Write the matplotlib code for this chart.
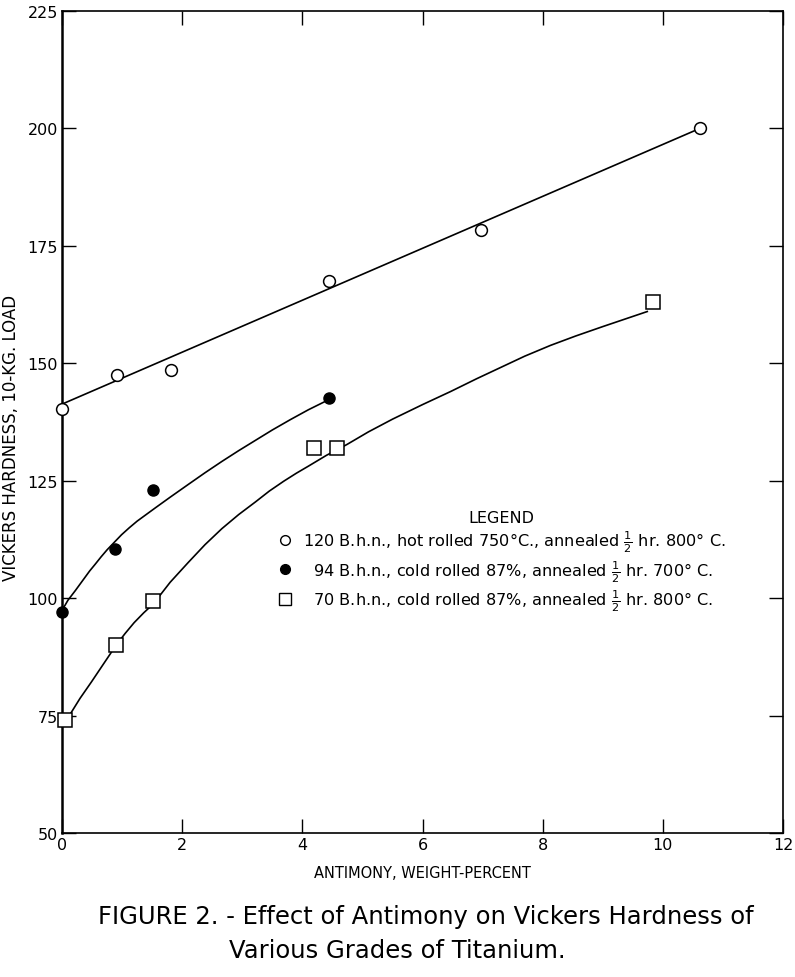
#!/usr/bin/env python3

import matplotlib
matplotlib.use('Agg')
import matplotlib.pyplot as plt
from matplotlib.lines import Line2D

# measured points
hot_x = [0.0, 0.91, 1.82, 4.45, 6.98, 10.62]
hot_y = [140.3, 147.5, 148.5, 167.5, 178.3, 200.0]

cold700_x = [0.0, 0.88, 1.52, 4.45]
cold700_y = [97.0, 110.5, 123.0, 142.5]

cold800_x = [0.05, 0.9, 1.52, 4.2, 4.57, 9.83]
cold800_y = [74.0, 90.0, 99.5, 132.0, 132.0, 163.0]

# curves drawn through the data
fit_hot_x = [0.0, 10.55]
fit_hot_y = [141.3, 199.6]

fit_700_x = [0.0, 0.05, 0.1, 0.16, 0.22, 0.3, 0.38, 0.46, 0.55, 0.65, 0.75, 0.87, 0.99, 1.12,
             1.25, 1.4, 1.55, 1.8, 2.1, 2.38, 2.66, 2.94, 3.22, 3.5, 3.8, 4.1, 4.4]
fit_700_y = [97.5, 98.5, 99.6, 100.6, 101.6, 103.0, 104.4, 105.8, 107.2, 108.8, 110.3, 111.9,
             113.5, 115.0, 116.4, 117.8, 119.2, 121.5, 124.2, 126.7, 129.1, 131.4, 133.6,
             135.8, 138.0, 140.1, 142.0]

fit_800_x = [0.12, 0.3, 0.49, 0.7, 0.9, 1.05, 1.2, 1.36, 1.52, 1.8, 2.1, 2.38, 2.66, 2.94,
             3.22, 3.45, 3.69, 3.9, 4.1, 4.4, 4.74, 5.1, 5.5, 6.0, 6.47, 6.9, 7.3, 7.7, 8.13,
             8.55, 9.0, 9.37, 9.74]
fit_800_y = [75.0, 78.7, 82.2, 86.2, 90.0, 92.5, 94.8, 96.9, 98.8, 103.4, 107.6, 111.4,
             114.8, 117.8, 120.5, 122.8, 124.9, 126.6, 128.1, 130.4, 132.7, 135.4, 138.1,
             141.2, 144.0, 146.7, 149.1, 151.5, 153.8, 155.8, 157.8, 159.4, 161.0]

legend_labels = [
    r'120 B.h.n., hot rolled 750°C., annealed $\frac{1}{2}$ hr. 800° C.',
    r'  94 B.h.n., cold rolled 87%, annealed $\frac{1}{2}$ hr. 700° C.',
    r'  70 B.h.n., cold rolled 87%, annealed $\frac{1}{2}$ hr. 800° C.',
]

xticks = [0, 2, 4, 6, 8, 10, 12]
yticks = [50, 75, 100, 125, 150, 175, 200, 225]


def main():
    plt.rcParams['font.family'] = ['DejaVu Sans']
    plt.rcParams['mathtext.fontset'] = 'dejavusans'
    fig = plt.figure(figsize=(7.95, 9.78), dpi=100)
    ax = fig.add_axes([0.078, 0.147, 0.907, 0.841])

    ax.plot(fit_hot_x, fit_hot_y, color='black', lw=1.2, zorder=2)
    ax.plot(fit_700_x, fit_700_y, color='black', lw=1.2, zorder=2)
    ax.plot(fit_800_x, fit_800_y, color='black', lw=1.2, zorder=2)

    ax.plot(hot_x, hot_y, 'o', ms=8.5, mfc='white', mec='black', mew=1.1,
            ls='none', zorder=3, clip_on=False)
    ax.plot(cold700_x, cold700_y, 'o', ms=8, mfc='black', mec='black',
            ls='none', zorder=3, clip_on=False)
    ax.plot(cold800_x, cold800_y, 's', ms=10.5, mfc='white', mec='black', mew=1.1,
            ls='none', zorder=3, clip_on=False)

    ax.set_xlim(0, 12)
    ax.set_ylim(50, 225)
    ax.set_xticks(xticks)
    ax.set_yticks(yticks)
    ax.tick_params(direction='in', length=10, width=1.0, top=True, right=True,
                   labelsize=11.5, pad=3)
    for s in ax.spines.values():
        s.set_linewidth(1.2)
    ax.spines['left'].set_linewidth(1.8)

    ax.set_xlabel('ANTIMONY, WEIGHT-PERCENT', fontsize=10.5, labelpad=9)
    ax.set_ylabel('VICKERS HARDNESS, 10-KG. LOAD', fontsize=12)
    ax.yaxis.set_label_coords(-0.058, 0.482)

    handles = [
        Line2D([], [], marker='o', ls='none', ms=7, mfc='white', mec='black', mew=1.0),
        Line2D([], [], marker='o', ls='none', ms=7, mfc='black', mec='black'),
        Line2D([], [], marker='s', ls='none', ms=9, mfc='white', mec='black', mew=1.0),
    ]
    ax.legend(handles, legend_labels, title='LEGEND', frameon=False,
              loc='upper left', bbox_to_anchor=(0.289, 0.401),
              fontsize=11.6, title_fontsize=11.5, handletextpad=0.6,
              labelspacing=0.22, handlelength=1.0, borderaxespad=0)

    fig.text(0.535, 0.062, 'FIGURE 2. - Effect of Antimony on Vickers Hardness of',
             ha='center', va='center', fontsize=17.5, family='DejaVu Sans')
    fig.text(0.5, 0.028, 'Various Grades of Titanium.',
             ha='center', va='center', fontsize=17.5, family='DejaVu Sans')

    fig.savefig('out.png', dpi=100)
    return 0


if __name__ == '__main__':
    exit(main())
